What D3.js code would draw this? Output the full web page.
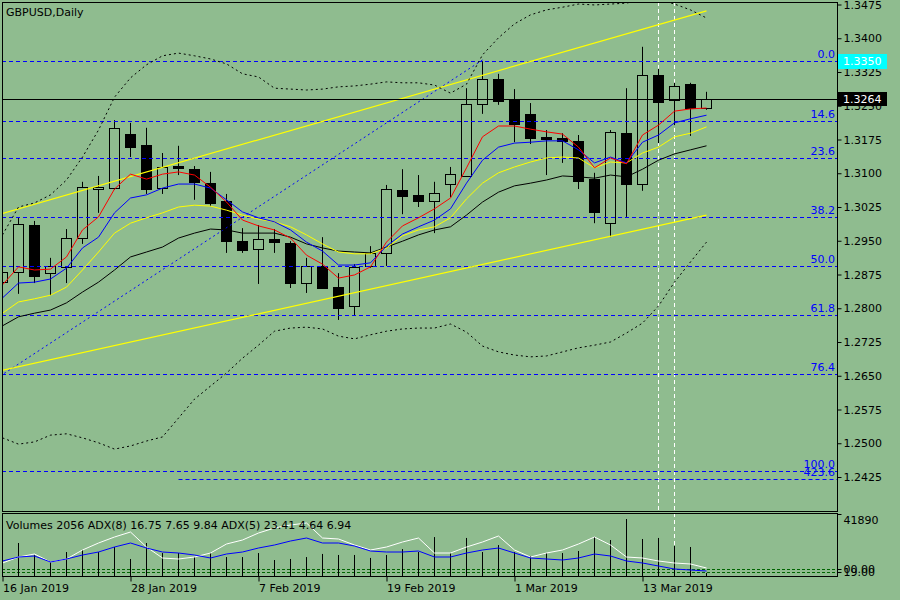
<!DOCTYPE html>
<html>
<head>
<meta charset="utf-8">
<script src="https://cdn.jsdelivr.net/npm/d3@7"></script>
<style>
  body { margin: 0; background: #8fbc8f; }
  text { font-family: "DejaVu Sans", sans-serif; font-size: 11px; }
</style>
</head>
<body>
<svg id="chart" width="900" height="600"></svg>
<script>
// GBPUSD daily, 16 Jan 2019 .. 19 Mar 2019 (45 bars)
const opens = [1.2858, 1.2881, 1.2985, 1.2878, 1.2892, 1.2956, 1.3065, 1.3067, 1.3187, 1.3163, 1.3067, 1.3116, 1.3109, 1.3078, 1.3038, 1.2949, 1.2932, 1.2954, 1.2945, 1.2856, 1.2894, 1.2847, 1.2805, 1.2894, 1.2923, 1.3063, 1.3052, 1.3038, 1.3076, 1.3094, 1.3254, 1.3309, 1.3265, 1.3232, 1.3181, 1.3178, 1.3172, 1.3087, 1.2989, 1.3189, 1.3076, 1.3318, 1.3263, 1.3298, 1.3245];
const highs = [1.2894, 1.3001, 1.2994, 1.2912, 1.2976, 1.3081, 1.3094, 1.3218, 1.3212, 1.3201, 1.3145, 1.3161, 1.3116, 1.3103, 1.3054, 1.2978, 1.2985, 1.2976, 1.2949, 1.2912, 1.2958, 1.2878, 1.2898, 1.2938, 1.3074, 1.3109, 1.3096, 1.3081, 1.3114, 1.3289, 1.3349, 1.3321, 1.3287, 1.3256, 1.3196, 1.3189, 1.3185, 1.3101, 1.3196, 1.3289, 1.3381, 1.3332, 1.3301, 1.3301, 1.3281];
const lows = [1.2845, 1.2832, 1.2856, 1.2829, 1.2856, 1.2943, 1.3012, 1.3063, 1.3136, 1.3054, 1.3054, 1.3096, 1.3041, 1.3027, 1.2923, 1.2923, 1.2854, 1.2923, 1.2845, 1.2834, 1.2845, 1.2774, 1.2785, 1.2890, 1.2894, 1.3009, 1.3025, 1.2967, 1.3047, 1.3092, 1.3232, 1.3252, 1.3169, 1.3165, 1.3096, 1.3123, 1.3065, 1.2989, 1.2958, 1.3003, 1.3061, 1.3167, 1.3207, 1.3183, 1.3241];
const closes = [1.2881, 1.2987, 1.2872, 1.2894, 1.2956, 1.3069, 1.3069, 1.3201, 1.3158, 1.3065, 1.3114, 1.3112, 1.3081, 1.3034, 1.2949, 1.2929, 1.2954, 1.2947, 1.2856, 1.2894, 1.2845, 1.2801, 1.2892, 1.2923, 1.3065, 1.3049, 1.3038, 1.3056, 1.3098, 1.3254, 1.3309, 1.3261, 1.3209, 1.3178, 1.3176, 1.3172, 1.3083, 1.3014, 1.3192, 1.3076, 1.3318, 1.3258, 1.3294, 1.3245, 1.3264];

// moving averages
const maRed = [1.2852, 1.2892, 1.2885, 1.2887, 1.2914, 1.2974, 1.3003, 1.3065, 1.3098, 1.3087, 1.3098, 1.3103, 1.3096, 1.3069, 1.3036, 1.2996, 1.2983, 1.2974, 1.2956, 1.2918, 1.2898, 1.2867, 1.2874, 1.2892, 1.2947, 1.2983, 1.3001, 1.3021, 1.3045, 1.3112, 1.3181, 1.3205, 1.3205, 1.3198, 1.3192, 1.3187, 1.3158, 1.3112, 1.3134, 1.3121, 1.3185, 1.3207, 1.3238, 1.3243, 1.3245];
const maBlue = [1.2823, 1.2856, 1.2858, 1.2865, 1.2889, 1.2934, 1.2958, 1.3012, 1.3045, 1.3052, 1.3067, 1.3076, 1.3076, 1.3067, 1.3041, 1.3014, 1.3001, 1.2992, 1.2974, 1.2947, 1.2927, 1.2896, 1.2896, 1.2901, 1.2938, 1.2965, 1.2981, 1.2996, 1.3021, 1.3078, 1.3129, 1.3158, 1.3167, 1.3169, 1.3172, 1.3172, 1.3152, 1.3123, 1.3136, 1.3123, 1.3169, 1.3185, 1.3212, 1.3221, 1.3229];
const maYellow = [1.2789, 1.2814, 1.2821, 1.2829, 1.2847, 1.2885, 1.2925, 1.2967, 1.2989, 1.3001, 1.3012, 1.3025, 1.3029, 1.3027, 1.3018, 1.3007, 1.2998, 1.2992, 1.2981, 1.2963, 1.2943, 1.2925, 1.2921, 1.2921, 1.2934, 1.2961, 1.2974, 1.2981, 1.3001, 1.3043, 1.3078, 1.3101, 1.3114, 1.3125, 1.3134, 1.3136, 1.3134, 1.3112, 1.3125, 1.3123, 1.3145, 1.3158, 1.3181, 1.3189, 1.3203];
const maBlack = [1.2761, 1.2781, 1.2789, 1.2796, 1.2812, 1.2836, 1.2858, 1.2885, 1.2914, 1.2925, 1.2936, 1.2956, 1.2967, 1.2976, 1.2974, 1.2967, 1.2967, 1.2967, 1.2958, 1.2943, 1.2934, 1.2927, 1.2925, 1.2923, 1.2936, 1.2949, 1.2963, 1.2974, 1.2981, 1.3007, 1.3036, 1.3058, 1.3072, 1.3078, 1.3085, 1.3094, 1.3092, 1.3089, 1.3096, 1.3092, 1.3109, 1.3129, 1.3143, 1.3152, 1.3161];

// bollinger bands
const bbUpper = [1.2963, 1.3025, 1.3034, 1.3052, 1.3085, 1.3136, 1.3196, 1.3269, 1.3312, 1.3341, 1.3361, 1.3367, 1.3361, 1.3354, 1.3343, 1.3321, 1.3314, 1.3289, 1.3287, 1.3285, 1.3287, 1.3292, 1.3294, 1.3298, 1.3303, 1.3301, 1.3301, 1.3296, 1.3278, 1.3298, 1.3363, 1.3401, 1.3432, 1.3452, 1.3463, 1.3469, 1.3476, 1.3474, 1.3476, 1.3478, 1.3487, 1.3487, 1.3476, 1.3463, 1.3445];
const bbLower = [1.2512, 1.2498, 1.2503, 1.2518, 1.2521, 1.2512, 1.2501, 1.2487, 1.2494, 1.2505, 1.2514, 1.2556, 1.2598, 1.2627, 1.2656, 1.2689, 1.2718, 1.2749, 1.2756, 1.2758, 1.2754, 1.2738, 1.2732, 1.2741, 1.2749, 1.2754, 1.2756, 1.2756, 1.2765, 1.2747, 1.2716, 1.2703, 1.2696, 1.2692, 1.2694, 1.2703, 1.2712, 1.2718, 1.2725, 1.2745, 1.2767, 1.2805, 1.2858, 1.2903, 1.2947];

// lower window
const volumes = [15300, 22300, 14200, 9460, 16200, 17600, 16200, 19600, 11500, 22300, 15500, 15500, 12800, 15500, 12800, 12800, 15500, 10800, 11500, 12800, 14900, 14200, 14200, 12200, 14200, 18200, 16200, 26300, 15500, 25700, 16200, 20900, 16200, 13500, 15500, 15500, 16900, 26300, 24300, 38500, 25000, 25700, 20300, 19600, 2056];
const adxWhite = [39, 57, 66, 42, 51, 78, 99, 117, 132, 87, 54, 51, 57, 69, 96, 108, 129, 144, 153, 159, 114, 111, 93, 78, 87, 102, 114, 69, 69, 87, 102, 120, 78, 57, 69, 78, 96, 117, 93, 57, 54, 45, 39, 36, 24];
const adxBlue = [45, 57, 60, 42, 51, 63, 72, 87, 99, 84, 72, 69, 63, 54, 66, 72, 84, 93, 105, 114, 99, 99, 90, 75, 72, 72, 75, 57, 57, 69, 78, 84, 69, 54, 51, 48, 54, 66, 60, 45, 39, 30, 21, 18, 15];
const adxLevels = [21, 12];
const adxLevelLabels = ['00.00', '19.00'];

// axes and objects
const priceTicks = [1.3475, 1.3400, 1.3325, 1.3250, 1.3175, 1.3100, 1.3025, 1.2950, 1.2875, 1.2800, 1.2725, 1.2650, 1.2575, 1.2500, 1.2425];
const dateTickBars = [0, 8, 16, 24, 32, 40];
const dateTickLabels = ['16 Jan 2019', '28 Jan 2019', '7 Feb 2019', '19 Feb 2019', '1 Mar 2019', '13 Mar 2019'];
const fibLabels = ['0.0', '14.6', '23.6', '38.2', '50.0', '61.8', '76.4', '100.0', '423.6'];
const fibPrices = [1.3350, 1.3217, 1.3135, 1.3002, 1.2894, 1.2786, 1.2653, 1.2438, 1.2421];
const fibStartBars = [-1, -1, -1, -1, -1, -1, -1, -1, 11];
const fibTrend = [[-0.16, 1.2649], [30.1, 1.3354]];
const channelUpper = [[-0.16, 1.3009], [44, 1.3461]];
const channelLower = [[-0.16, 1.2661], [44, 1.3007]];
const vLineBars = [41, 42];
const lastPrice = 1.3264;

const svg = d3.select('#chart');
const L = 2, R = 837, mainTop = 2, mainBottom = 511, volTop = 513, volBottom = 576;

const x = d3.scaleLinear().domain([0, 44]).range([2.5, 706.5]);
const y = d3.scaleLinear().domain([1.2425, 1.3475]).range([477, 4.5]);
const yVol = d3.scaleLinear().domain([0, 41890]).range([576, 514]);
const yAdx = d3.scaleLinear().domain([0, 186]).range([576, 514]);
const px = v => Math.round(v) + 0.5;

const defs = svg.append('defs');
defs.append('clipPath').attr('id', 'clipMain')
    .append('rect').attr('x', L).attr('y', mainTop).attr('width', R - L).attr('height', mainBottom - mainTop);
defs.append('clipPath').attr('id', 'clipVol')
    .append('rect').attr('x', L).attr('y', volTop).attr('width', R - L).attr('height', volBottom - volTop);

const main = svg.append('g').attr('clip-path', 'url(#clipMain)');
const vol = svg.append('g').attr('clip-path', 'url(#clipVol)');

// vertical dashed lines
vLineBars.forEach((b, i) => {
    main.append('line')
        .attr('x1', x(b)).attr('x2', x(b))
        .attr('y1', mainTop).attr('y2', mainBottom)
        .attr('stroke', '#fff').attr('stroke-dasharray', '4,3');
    if (i === 1) {
        vol.append('line')
            .attr('x1', x(b)).attr('x2', x(b))
            .attr('y1', volTop).attr('y2', volBottom)
            .attr('stroke', '#fff').attr('stroke-dasharray', '4,3');
    }
});

// candles
const bars = d3.range(opens.length);
const candle = main.append('g').selectAll('g').data(bars).join('g');
candle.append('line')
    .attr('x1', i => x(i)).attr('x2', i => x(i))
    .attr('y1', i => y(highs[i])).attr('y2', i => y(lows[i]))
    .attr('stroke', '#000');
candle.append('rect')
    .attr('x', i => x(i) - 5).attr('width', 10)
    .attr('y', i => px(y(Math.max(opens[i], closes[i]))))
    .attr('height', i => Math.max(1, Math.round(Math.abs(y(opens[i]) - y(closes[i])))))
    .attr('fill', i => closes[i] < opens[i] ? '#000' : '#8fbc8f')
    .attr('stroke', '#000');

// fibonacci levels
fibPrices.forEach((p, i) => {
    main.append('line')
        .attr('x1', fibStartBars[i] < 0 ? L : x(fibStartBars[i])).attr('x2', R)
        .attr('y1', px(y(p))).attr('y2', px(y(p)))
        .attr('stroke', '#0000ff').attr('stroke-dasharray', '4,3');
    svg.append('text')
        .attr('x', 835).attr('y', y(p) - 3)
        .attr('text-anchor', 'end').attr('fill', '#0000ff')
        .text(fibLabels[i]);
});

const seg = d3.line().x(d => x(d[0])).y(d => y(d[1]));
main.append('path').attr('d', seg(fibTrend))
    .attr('fill', 'none').attr('stroke', '#0000ff').attr('stroke-dasharray', '2,3');
[channelUpper, channelLower].forEach(c => {
    main.append('path').attr('d', seg(c))
        .attr('fill', 'none').attr('stroke', '#ffff00').attr('stroke-width', 1.2);
});

// last price horizontal
main.append('line')
    .attr('x1', L).attr('x2', R)
    .attr('y1', px(y(lastPrice))).attr('y2', px(y(lastPrice)))
    .attr('stroke', '#000');

// indicators
const line = d3.line().x((d, i) => x(i)).y(d => y(d));
[[bbUpper, '#000', '2,3'], [bbLower, '#000', '2,3'],
 [maBlack, '#000', null], [maYellow, '#ffff00', null],
 [maBlue, '#0000ff', null], [maRed, '#ff0000', null]].forEach(([s, c, dash]) => {
    main.append('path').attr('d', line(s))
        .attr('fill', 'none').attr('stroke', c)
        .attr('stroke-dasharray', dash);
});

// volume window
adxLevels.forEach(v => {
    vol.append('line')
        .attr('x1', L).attr('x2', R)
        .attr('y1', px(yAdx(v))).attr('y2', px(yAdx(v)))
        .attr('stroke', '#006400').attr('stroke-dasharray', '3,2');
});
vol.append('g').selectAll('line').data(bars).join('line')
    .attr('x1', i => x(i)).attr('x2', i => x(i))
    .attr('y1', yVol(0)).attr('y2', i => yVol(volumes[i]))
    .attr('stroke', '#000');
const adxLine = d3.line().x((d, i) => x(i)).y(d => yAdx(d));
vol.append('path').attr('d', adxLine(adxWhite)).attr('fill', 'none').attr('stroke', '#fff');
vol.append('path').attr('d', adxLine(adxBlue)).attr('fill', 'none').attr('stroke', '#0000ff');

// frames
const frame = svg.append('g').attr('fill', 'none').attr('stroke', '#000');
frame.append('rect').attr('x', L + 0.5).attr('y', mainTop + 0.5)
    .attr('width', R - L).attr('height', mainBottom - mainTop);
frame.append('rect').attr('x', L + 0.5).attr('y', volTop + 0.5)
    .attr('width', R - L).attr('height', volBottom - volTop);

// price axis
const styleAxis = g => {
    g.select('.domain').remove();
    g.selectAll('line').attr('stroke', '#000');
    g.selectAll('text').attr('fill', '#000')
        .style('font-family', '"DejaVu Sans", sans-serif').style('font-size', '11px');
};
svg.append('g').attr('transform', `translate(${R + 0.5},0)`)
    .call(d3.axisRight(y).tickValues(priceTicks).tickSize(4).tickPadding(2).tickFormat(d3.format('.4f')))
    .call(styleAxis);
svg.append('g').attr('transform', `translate(${R + 0.5},0)`)
    .call(d3.axisRight(yVol).tickValues([41890]).tickSize(4).tickPadding(2).tickFormat(d3.format('d')))
    .call(styleAxis)
    .selectAll('text').attr('dy', '0.9em');
svg.append('g').attr('transform', `translate(${R + 0.5},0)`)
    .call(d3.axisRight(yAdx).tickValues(adxLevels).tickSize(4).tickPadding(2).tickFormat((d, i) => adxLevelLabels[i]))
    .call(styleAxis);

// date axis
svg.append('g').attr('transform', `translate(0,${volBottom + 0.5})`)
    .call(d3.axisBottom(x).tickValues(dateTickBars).tickSize(5).tickPadding(3).tickFormat((d, i) => dateTickLabels[i]))
    .call(styleAxis)
    .selectAll('text').attr('text-anchor', 'start').attr('x', 0);

// price labels on the axis
[[1.3350, '#00ffff', '#fff', 15], [lastPrice, '#000', '#fff', 14]].forEach(([p, bg, fg, h]) => {
    svg.append('rect').attr('x', 838).attr('y', Math.round(y(p)) - Math.floor(h / 2))
        .attr('width', 49).attr('height', h).attr('fill', bg);
    svg.append('text').attr('x', 843).attr('y', y(p)).attr('dy', '0.35em')
        .attr('fill', fg).text(p.toFixed(4));
});

// titles
svg.append('text').attr('x', 6).attr('y', 16).attr('fill', '#000').text('GBPUSD,Daily');
svg.append('text').attr('x', 6).attr('y', 529).attr('fill', '#000')
    .text('Volumes 2056 ADX(8) 16.75 7.65 9.84 ADX(5) 23.41 4.64 6.94');
</script>
</body>
</html>
